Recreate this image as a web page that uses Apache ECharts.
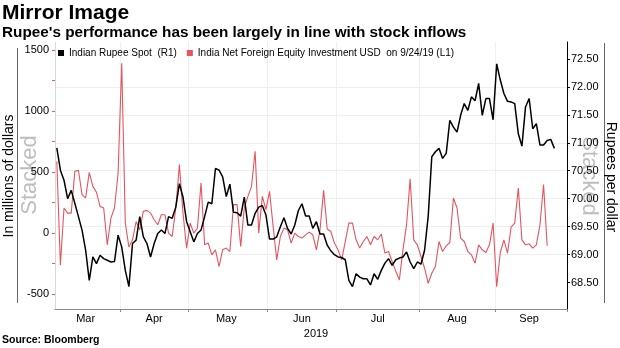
<!DOCTYPE html>
<html><head><meta charset="utf-8">
<script src="https://cdn.jsdelivr.net/npm/echarts@6/dist/echarts.min.js"></script>
<style>html,body{margin:0;padding:0;background:#fff}#c{width:620px;height:348px}</style>
</head><body><div id="c"></div>
<script>
// Month names and number of trading-day slots in each month on the x axis
const months = ['Mar', 'Apr', 'May', 'Jun', 'Jul', 'Aug', 'Sep'];
const monthSlots = [18, 19, 22, 19, 23, 21, 20];

// Indian Rupee Spot (R1), rupees per dollar
const rupeeSpot = [
  70.91,70.51,70.33,70.00,70.15,69.92,69.68,69.44,69.08,68.54,
  68.96,68.84,68.99,68.93,68.90,68.87,68.88,69.35,69.14,68.72,
  68.43,69.20,69.26,69.68,69.32,69.20,68.96,69.20,69.38,69.44,
  69.38,69.68,69.65,69.85,70.27,70.03,69.59,69.41,69.23,69.38,
  69.44,69.68,69.94,69.91,70.54,70.51,70.39,70.04,70.26,69.76,
  69.75,69.69,70.03,69.53,69.53,69.74,69.85,69.88,69.71,69.28,
  69.28,69.32,69.50,69.66,69.47,69.37,69.53,69.79,69.91,69.69,
  69.69,69.47,69.59,69.37,69.37,69.17,69.07,69.00,68.96,68.95,
  68.91,68.54,68.43,68.66,68.60,68.57,68.57,68.46,68.66,68.56,
  68.72,68.85,68.93,68.81,68.91,68.94,68.96,69.05,68.87,68.75,
  68.87,68.83,69.08,69.68,70.75,70.84,70.90,70.72,70.81,71.40,
  71.28,71.19,71.49,71.70,71.58,71.82,71.75,72.06,71.49,71.79,
  71.79,71.41,72.41,72.12,71.88,71.74,71.73,71.70,71.16,70.94,
  71.64,71.79,71.25,71.34,70.96,70.96,71.04,71.06,70.90
];

// India Net Foreign Equity Investment USD (L1), millions of dollars
const equityFlows = [
  589,-261,206,164,164,506,515,315,288,498,
  383,334,219,206,-96,123,206,493,1392,82,
  -115,-55,95,27,178,186,164,109,68,150,
  150,0,-28,206,561,164,-123,82,0,40,
  411,-96,-82,-178,-137,-274,-137,-123,-151,233,
  233,-110,206,301,383,671,0,301,192,342,
  54,-219,-28,41,27,-82,0,-28,-41,-15,
  8,-14,-137,27,350,33,13,-82,-137,-219,
  -70,82,82,-55,-123,-69,-28,-96,-28,-55,
  -8,-164,-151,-233,-310,-384,-137,68,444,-55,
  -96,-192,-288,-411,-329,-274,-69,-151,-104,-77,
  288,206,-41,-69,-151,-178,-247,-96,-137,-159,
  -96,82,-439,-159,-55,-164,49,82,370,-55,
  -96,-88,-123,-96,68,397,-104
];

// Tick labels
const leftLabelValues = [-500, 0, 500, 1000, 1500];
const leftTickValues = [-500, -250, 0, 250, 500, 750, 1000, 1250, 1500];
const rightTickValues = [68.5, 69, 69.5, 70, 70.5, 71, 71.5, 72, 72.5];
const yearLabel = '2019';

const seriesNames = ['Indian Rupee Spot  (R1)', 'India Net Foreign Equity Investment USD  on 9/24/19 (L1)'];

// Build category slots
const categories = [];
const monthStart = [];
const labelIndex = {};
let pos = 0;
months.forEach((m, i) => {
  monthStart.push(pos);
  labelIndex[pos + Math.floor((monthSlots[i] - 1) / 2)] = m;
  for (let k = 1; k <= monthSlots[i]; k++) categories.push(m + ' ' + k);
  pos += monthSlots[i];
});
const boundarySet = new Set(monthStart.slice(1));

const FONT = '"Liberation Sans", Arial, sans-serif';
const chart = echarts.init(document.getElementById('c'), null, { renderer: 'canvas' });
chart.setOption({
  animation: false,
  backgroundColor: '#ffffff',
  textStyle: { fontFamily: FONT },
  grid: { left: 55, right: 53, top: 42, bottom: 39, containLabel: false },
  legend: {
    left: 58, top: 48, padding: 0, itemGap: 10,
    icon: 'rect', itemWidth: 6, itemHeight: 6,
    textStyle: { fontFamily: FONT, fontSize: 10, color: '#000' },
    data: seriesNames
  },
  xAxis: {
    type: 'category', data: categories, boundaryGap: true,
    axisLine: { show: true, onZero: false, lineStyle: { color: '#888', width: 1 } },
    axisTick: { show: true, interval: (i) => boundarySet.has(i), length: 3, lineStyle: { color: '#888' } },
    axisLabel: {
      interval: (i) => (i in labelIndex),
      formatter: (v, i) => labelIndex[i] || '',
      color: '#000', fontSize: 11, margin: 4, fontFamily: FONT
    },
    splitLine: { show: true, interval: (i) => boundarySet.has(i), lineStyle: { color: '#efefef' } },
    name: yearLabel, nameLocation: 'middle', nameGap: 14,
    nameTextStyle: { color: '#000', fontSize: 11, fontFamily: FONT, padding: [0, 0, 0, 10] }
  },
  yAxis: [
    {
      type: 'value', position: 'left', min: -622, max: 1566,
      axisLine: { show: true, onZero: false, lineStyle: { color: '#d8d8d8' } },
      axisTick: { show: true, customValues: leftTickValues, length: 3, lineStyle: { color: '#e06060' } },
      axisLabel: { customValues: leftLabelValues, formatter: (v) => String(v), color: '#000', fontSize: 11, margin: 6, fontFamily: FONT },
      splitLine: { show: false }
    },
    {
      type: 'value', position: 'right', min: 68.03, max: 72.80, splitNumber: 10,
      axisLine: { show: true, onZero: false, lineStyle: { color: '#000' } },
      axisTick: { show: true, customValues: rightTickValues, length: 3, lineStyle: { color: '#000' } },
      axisLabel: { customValues: rightTickValues, formatter: (v) => v.toFixed(2), color: '#000', fontSize: 11, margin: 4, fontFamily: FONT },
      splitLine: { show: true, showMinLine: false, showMaxLine: false, lineStyle: { color: '#efefef' } }
    }
  ],
  series: [
    {
      name: seriesNames[1], type: 'line', yAxisIndex: 0, data: equityFlows,
      symbol: 'none', z: 2,
      lineStyle: { color: '#e4555f', width: 1.1 }, itemStyle: { color: '#e4555f' }
    },
    {
      name: seriesNames[0], type: 'line', yAxisIndex: 1, data: rupeeSpot,
      symbol: 'none', z: 3,
      lineStyle: { color: '#000', width: 1.5 }, itemStyle: { color: '#000' }
    }
  ],
  graphic: [
    { type: 'text', left: 2, top: 3, style: { text: 'Mirror Image', font: 'bold 21px ' + FONT, fill: '#000' } },
    { type: 'text', left: 2, top: 25, style: { text: "Rupee's performance has been largely in line with stock inflows", font: 'bold 15.3px ' + FONT, fill: '#000' } },
    { type: 'text', left: 2, top: 335, style: { text: 'Source: Bloomberg', font: 'bold 10.5px ' + FONT, fill: '#000' } },
    { type: 'line', shape: { x1: 17.5, y1: 48, x2: 17.5, y2: 303 }, style: { stroke: '#666', lineWidth: 1 } },
    { type: 'line', shape: { x1: 604.5, y1: 43, x2: 604.5, y2: 303 }, style: { stroke: '#666', lineWidth: 1 } },
    { type: 'text', x: 30, y: 175, rotation: Math.PI / 2, z: -1,
      style: { text: 'Stacked', font: '22px ' + FONT, fill: '#bdbdbd', align: 'center', verticalAlign: 'middle', textAlign: 'center', textVerticalAlign: 'middle' } },
    { type: 'text', x: 589, y: 176, rotation: -Math.PI / 2, z: -1,
      style: { text: 'Stacked', font: '22px ' + FONT, fill: '#bdbdbd', align: 'center', verticalAlign: 'middle', textAlign: 'center', textVerticalAlign: 'middle' } },
    { type: 'text', x: 9, y: 176, rotation: Math.PI / 2,
      style: { text: 'In millions of dollars', font: '14px ' + FONT, fill: '#000', align: 'center', verticalAlign: 'middle', textAlign: 'center', textVerticalAlign: 'middle' } },
    { type: 'text', x: 611, y: 177, rotation: -Math.PI / 2,
      style: { text: 'Rupees per dollar', font: '14px ' + FONT, fill: '#000', align: 'center', verticalAlign: 'middle', textAlign: 'center', textVerticalAlign: 'middle' } }
  ]
});
</script>
</body></html>
